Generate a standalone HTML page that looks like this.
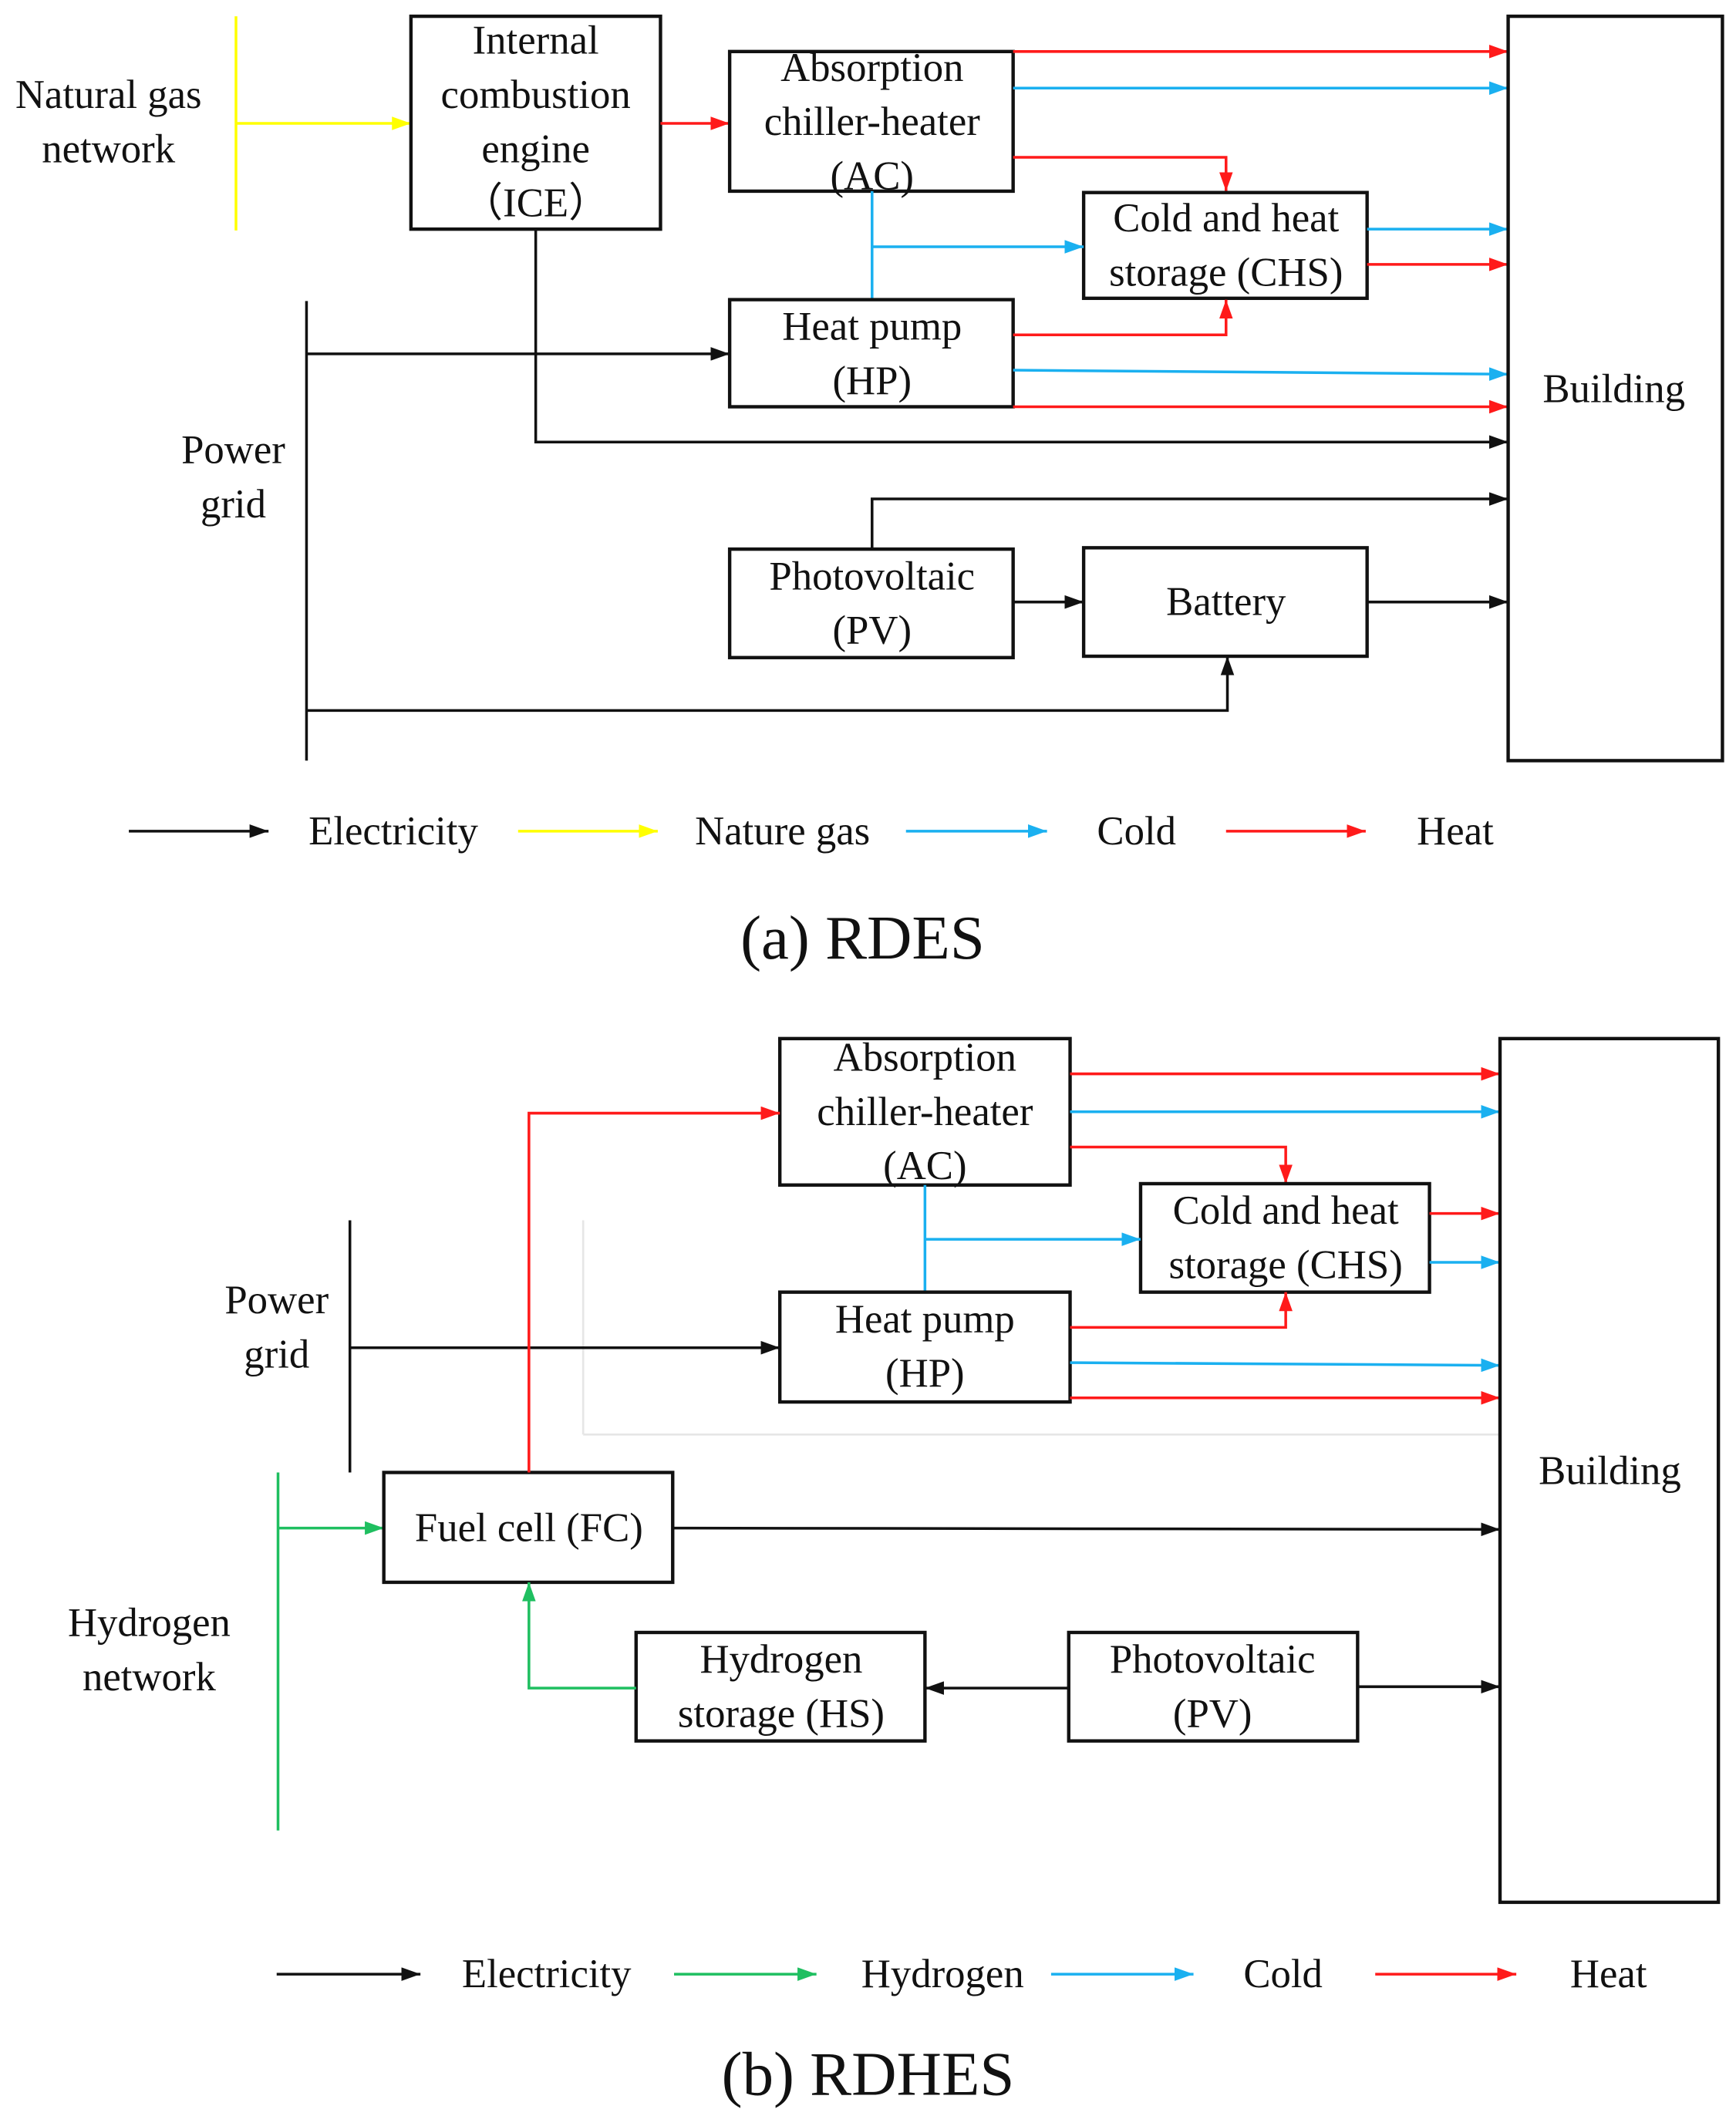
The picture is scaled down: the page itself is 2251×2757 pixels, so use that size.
<!DOCTYPE html>
<html><head><meta charset="utf-8"><style>
html,body{margin:0;padding:0;background:#fff;}
svg{display:block;}
text{font-family:"Liberation Serif",serif;font-size:30px;fill:#111;text-anchor:middle;dominant-baseline:central;}
.b{fill:none;stroke:#111;stroke-width:2.5;}
.k{stroke:#111;stroke-width:2;fill:none;}
.r{stroke:#ff1a1a;stroke-width:2;fill:none;}
.c{stroke:#1ab0f0;stroke-width:2;fill:none;}
.y{stroke:#ffff00;stroke-width:2;fill:none;}
.g{stroke:#1fbf60;stroke-width:2;fill:none;}
</style></head><body>
<svg width="2251" height="2757" viewBox="0 0 1280 1568" preserveAspectRatio="none" xmlns="http://www.w3.org/2000/svg">
<defs>
<marker id="ak" markerWidth="14" markerHeight="10" refX="14" refY="5" orient="auto" markerUnits="userSpaceOnUse"><path d="M0,0 L14,5 L0,10 z" fill="#111"/></marker>
<marker id="ar" markerWidth="14" markerHeight="10" refX="14" refY="5" orient="auto" markerUnits="userSpaceOnUse"><path d="M0,0 L14,5 L0,10 z" fill="#ff1a1a"/></marker>
<marker id="ac" markerWidth="14" markerHeight="10" refX="14" refY="5" orient="auto" markerUnits="userSpaceOnUse"><path d="M0,0 L14,5 L0,10 z" fill="#1ab0f0"/></marker>
<marker id="ay" markerWidth="14" markerHeight="10" refX="14" refY="5" orient="auto" markerUnits="userSpaceOnUse"><path d="M0,0 L14,5 L0,10 z" fill="#ffff00"/></marker>
<marker id="ag" markerWidth="14" markerHeight="10" refX="14" refY="5" orient="auto" markerUnits="userSpaceOnUse"><path d="M0,0 L14,5 L0,10 z" fill="#1fbf60"/></marker>
</defs>

<!-- (a) -->
<text x="80" y="70">Natural gas</text><text x="80" y="110">network</text>
<line class="y" x1="174" y1="12" x2="174" y2="170"/>
<line class="y" x1="174" y1="91" x2="303" y2="91" marker-end="url(#ay)"/>
<rect class="b" x="303" y="12" width="184" height="157"/>
<text x="395" y="30">Internal</text><text x="395" y="70">combustion</text><text x="395" y="110">engine</text><text x="395" y="150">（ICE）</text>
<line class="r" x1="487" y1="91" x2="538" y2="91" marker-end="url(#ar)"/>
<rect class="b" x="538" y="38" width="209" height="103"/>
<text x="643" y="50">Absorption</text><text x="643" y="90">chiller-heater</text><text x="643" y="130">(AC)</text>
<line class="r" x1="747" y1="38" x2="1112" y2="38" marker-end="url(#ar)"/>
<line class="c" x1="747" y1="65" x2="1112" y2="65" marker-end="url(#ac)"/>
<polyline class="r" points="747,116 904,116 904,141" marker-end="url(#ar)"/>
<rect class="b" x="799" y="142" width="209" height="78"/>
<text x="904" y="161">Cold and heat</text><text x="904" y="201">storage (CHS)</text>
<line class="c" x1="1008" y1="169" x2="1112" y2="169" marker-end="url(#ac)"/>
<line class="r" x1="1008" y1="195" x2="1112" y2="195" marker-end="url(#ar)"/>
<line class="c" x1="643" y1="141" x2="643" y2="221"/>
<line class="c" x1="643" y1="182" x2="799" y2="182" marker-end="url(#ac)"/>
<rect class="b" x="538" y="221" width="209" height="79"/>
<text x="643" y="241">Heat pump</text><text x="643" y="281">(HP)</text>
<polyline class="r" points="747,247 904,247 904,221" marker-end="url(#ar)"/>
<line class="c" x1="747" y1="273" x2="1112" y2="276" marker-end="url(#ac)"/>
<line class="r" x1="747" y1="300" x2="1112" y2="300" marker-end="url(#ar)"/>
<line class="k" x1="226" y1="222" x2="226" y2="561"/>
<text x="172" y="332">Power</text><text x="172" y="372">grid</text>
<line class="k" x1="226" y1="261" x2="538" y2="261" marker-end="url(#ak)"/>
<polyline class="k" points="395,169 395,326 1112,326" marker-end="url(#ak)"/>
<rect class="b" x="538" y="405" width="209" height="80"/>
<text x="643" y="425">Photovoltaic</text><text x="643" y="465">(PV)</text>
<polyline class="k" points="643,405 643,368 1112,368" marker-end="url(#ak)"/>
<line class="k" x1="747" y1="444" x2="799" y2="444" marker-end="url(#ak)"/>
<rect class="b" x="799" y="404" width="209" height="80"/>
<text x="904" y="444">Battery</text>
<line class="k" x1="1008" y1="444" x2="1112" y2="444" marker-end="url(#ak)"/>
<polyline class="k" points="226,524 905,524 905,484" marker-end="url(#ak)"/>
<rect class="b" x="1112" y="12" width="158" height="549"/>
<text x="1190" y="287">Building</text>
<line class="k" x1="95" y1="613" x2="198" y2="613" marker-end="url(#ak)"/><text x="290" y="613">Electricity</text>
<line class="y" x1="382" y1="613" x2="485" y2="613" marker-end="url(#ay)"/><text x="577" y="613">Nature gas</text>
<line class="c" x1="668" y1="613" x2="772" y2="613" marker-end="url(#ac)"/><text x="838" y="613">Cold</text>
<line class="r" x1="904" y1="613" x2="1007" y2="613" marker-end="url(#ar)"/><text x="1073" y="613">Heat</text>
<text x="636" y="692" style="font-size:46px">(a) RDES</text>

<!-- (b) -->
<line stroke="#e6e6e6" stroke-width="1.5" x1="430" y1="900" x2="430" y2="1058"/>
<line stroke="#e6e6e6" stroke-width="1.5" x1="430" y1="1058" x2="1106" y2="1058"/>
<rect class="b" x="575" y="766" width="214" height="108"/>
<text x="682" y="780">Absorption</text><text x="682" y="820">chiller-heater</text><text x="682" y="860">(AC)</text>
<line class="r" x1="789" y1="792" x2="1106" y2="792" marker-end="url(#ar)"/>
<line class="c" x1="789" y1="820" x2="1106" y2="820" marker-end="url(#ac)"/>
<polyline class="r" points="789,846 948,846 948,873" marker-end="url(#ar)"/>
<rect class="b" x="841" y="873" width="213" height="80"/>
<text x="948" y="893">Cold and heat</text><text x="948" y="933">storage (CHS)</text>
<line class="r" x1="1054" y1="895" x2="1106" y2="895" marker-end="url(#ar)"/>
<line class="c" x1="1054" y1="931" x2="1106" y2="931" marker-end="url(#ac)"/>
<line class="c" x1="682" y1="874" x2="682" y2="953"/>
<line class="c" x1="682" y1="914" x2="841" y2="914" marker-end="url(#ac)"/>
<rect class="b" x="575" y="953" width="214" height="81"/>
<text x="682" y="973">Heat pump</text><text x="682" y="1013">(HP)</text>
<polyline class="r" points="789,979 948,979 948,953" marker-end="url(#ar)"/>
<line class="c" x1="789" y1="1005" x2="1106" y2="1007" marker-end="url(#ac)"/>
<line class="r" x1="789" y1="1031" x2="1106" y2="1031" marker-end="url(#ar)"/>
<line class="k" x1="258" y1="900" x2="258" y2="1086"/>
<text x="204" y="959">Power</text><text x="204" y="999">grid</text>
<line class="k" x1="258" y1="994" x2="575" y2="994" marker-end="url(#ak)"/>
<line class="g" x1="205" y1="1086" x2="205" y2="1350"/>
<line class="g" x1="205" y1="1127" x2="283" y2="1127" marker-end="url(#ag)"/>
<text x="110" y="1197">Hydrogen</text><text x="110" y="1237">network</text>
<rect class="b" x="283" y="1086" width="213" height="81"/>
<text x="390" y="1127">Fuel cell (FC)</text>
<polyline class="r" points="390,1086 390,821 575,821" marker-end="url(#ar)"/>
<line class="k" x1="496" y1="1127" x2="1106" y2="1128" marker-end="url(#ak)"/>
<rect class="b" x="469" y="1204" width="213" height="80"/>
<text x="576" y="1224">Hydrogen</text><text x="576" y="1264">storage (HS)</text>
<polyline class="g" points="469,1245 390,1245 390,1167" marker-end="url(#ag)"/>
<rect class="b" x="788" y="1204" width="213" height="80"/>
<text x="894" y="1224">Photovoltaic</text><text x="894" y="1264">(PV)</text>
<line class="k" x1="788" y1="1245" x2="682" y2="1245" marker-end="url(#ak)"/>
<line class="k" x1="1001" y1="1244" x2="1106" y2="1244" marker-end="url(#ak)"/>
<rect class="b" x="1106" y="766" width="161" height="637"/>
<text x="1187" y="1085">Building</text>
<line class="k" x1="204" y1="1456" x2="310" y2="1456" marker-end="url(#ak)"/><text x="403" y="1456">Electricity</text>
<line class="g" x1="497" y1="1456" x2="602" y2="1456" marker-end="url(#ag)"/><text x="695" y="1456">Hydrogen</text>
<line class="c" x1="775" y1="1456" x2="880" y2="1456" marker-end="url(#ac)"/><text x="946" y="1456">Cold</text>
<line class="r" x1="1014" y1="1456" x2="1118" y2="1456" marker-end="url(#ar)"/><text x="1186" y="1456">Heat</text>
<text x="640" y="1530" style="font-size:46px">(b) RDHES</text>
</svg>
</body></html>
